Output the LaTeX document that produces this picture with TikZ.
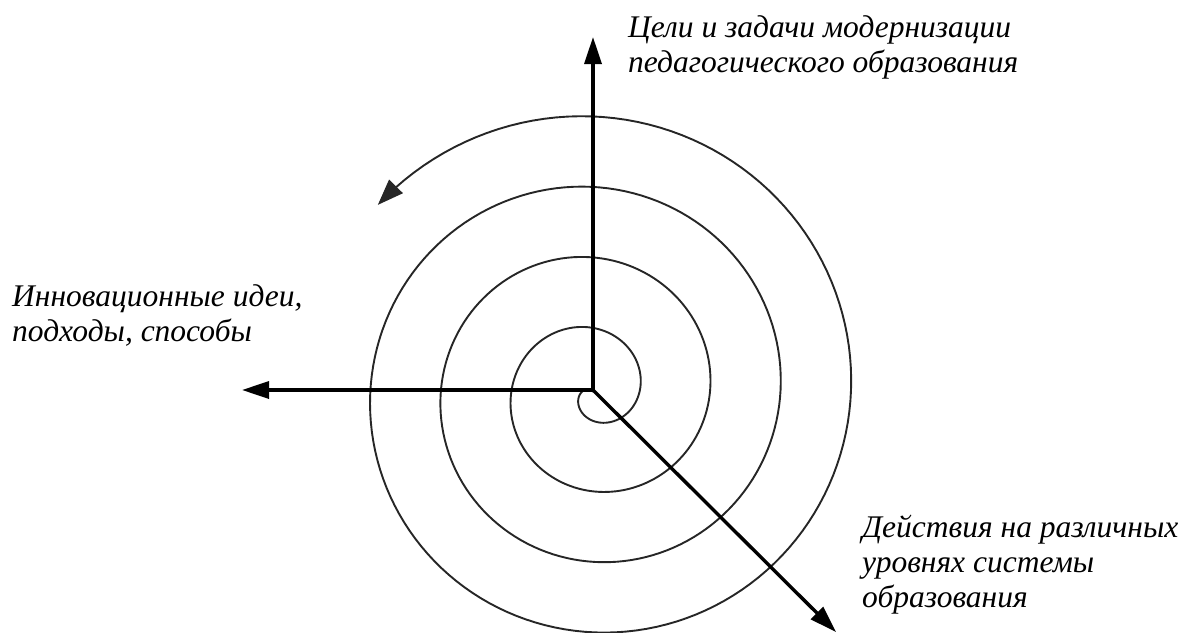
\documentclass[tikz,border=0pt]{standalone}
\usepackage{fontspec}
\setmainfont{Liberation Serif}
\usetikzlibrary{arrows.meta}
\begin{document}
\begin{tikzpicture}[x=1pt,y=-1pt,
  axis/.style={line width=3.4pt,-{Triangle[length=27pt,width=17pt]}},
  spiralline/.style={line width=1.9pt,black!85,-{Triangle[length=26pt,width=19pt]}},
  label/.style={inner sep=0pt,anchor=base west,align=left,font=\itshape\fontsize{31.5}{35}\selectfont}]
\useasboundingbox (0,0) rectangle (1189,632);
\coordinate (o) at (593,390);
\coordinate (up) at (593,37);
\coordinate (left) at (242,390);
\coordinate (diag) at (836,632);
\draw[spiralline] plot[domain=123:1579,samples=600,variable=\t]
  ({593+0.1958*(\t-122.6)*cos(\t)},{392-0.1958*(\t-122.6)*sin(\t)});
\draw[axis] (o) -- (up);
\draw[axis] (o) -- (left);
\draw[axis] (o) -- (diag);
\node[label] (goals) at (628,72) {Цели и задачи модернизации\\педагогического образования};
\node[label] (ideas) at (12,341) {Инновационные идеи,\\подходы, способы};
\node[label] (acts) at (862,607) {Действия на различных\\уровнях системы\\образования};
\end{tikzpicture}
\end{document}
